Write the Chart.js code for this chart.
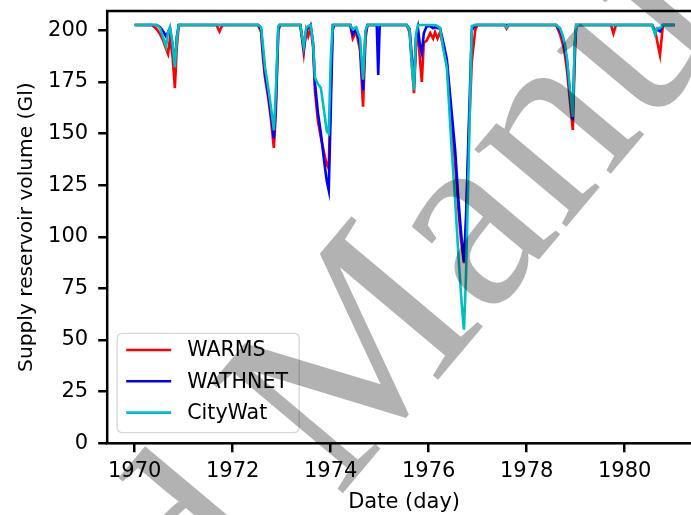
<!DOCTYPE html>
<html>
<head>
<meta charset="utf-8">
<script src="https://cdn.jsdelivr.net/npm/chart.js@4.4.0/dist/chart.umd.min.js"></script>
<style>
  html, body { margin: 0; padding: 0; background: #fff; overflow: hidden; }
  #wrap { width: 691px; height: 515px; overflow: hidden; }
  canvas { display: block; }
</style>
</head>
<body>
<div id="wrap"><canvas id="reservoirChart" width="701" height="515"></canvas></div>
<script>
// decimal years, shared by the three models
const dates = [
  1970.00, 1970.35, 1970.45, 1970.52, 1970.58, 1970.64, 1970.68, 1970.72, 1970.77, 1970.82,
  1970.86, 1970.90, 1971.67, 1971.73, 1971.79, 1972.52, 1972.58, 1972.62, 1972.66, 1972.72,
  1972.78, 1972.84, 1972.88, 1972.93, 1972.96, 1973.38, 1973.45, 1973.50, 1973.54, 1973.59,
  1973.64, 1973.68, 1973.74, 1973.80, 1973.87, 1973.92, 1973.96, 1974.00, 1974.04, 1974.07,
  1974.40, 1974.45, 1974.52, 1974.60, 1974.66, 1974.71, 1974.75, 1974.94, 1974.97, 1975.00,
  1975.55, 1975.61, 1975.66, 1975.70, 1975.74, 1975.78, 1975.82, 1975.86, 1975.90, 1975.96,
  1976.03, 1976.09, 1976.13, 1976.18, 1976.23, 1976.29, 1976.37, 1976.47, 1976.54, 1976.60,
  1976.66, 1976.71, 1976.72, 1976.76, 1976.82, 1976.88, 1976.95, 1976.99, 1977.55, 1977.59,
  1977.63, 1978.60, 1978.68, 1978.74, 1978.78, 1978.82, 1978.88, 1978.94, 1978.98, 1979.01,
  1979.72, 1979.77, 1979.82, 1980.56, 1980.62, 1980.66, 1980.72, 1980.78, 1981.02,
];
const warms = [
  202.5, 202.5, 200.5, 198, 195, 191, 188.5, 196, 188, 172,
  192, 202.5, 202.5, 199.3, 202.5, 202.5, 199, 186, 177, 168,
  157, 143, 160, 199, 202.5, 202.5, 189, 200, 197, 201.5,
  192, 170, 156, 148, 140, 135, 133, 170, 202.5, 202.5,
  202.5, 196, 199.5, 190, 163, 196, 202.5, 202.5, 202.5, 202.5,
  202.5, 199, 182, 169.5, 192, 199, 186, 175, 194, 195,
  198.6, 196, 199, 196, 199, 193, 184, 155, 135, 115,
  98, 89, 87.2, 105, 150, 185, 200, 202.5, 202.5, 200.8,
  202.5, 202.5, 198, 193, 188, 181, 166, 151.7, 185, 202.5,
  202.5, 198.5, 202.5, 202.5, 200, 195, 188, 202.5, 202.5,
];
const wathnet = [
  202.5, 202.5, 202.5, 201.5, 199.5, 197, 199, 201, 193, 183,
  197, 202.5, 202.5, 202.5, 202.5, 202.5, 200.5, 189, 179, 170,
  160, 147.5, 165, 200, 202.5, 202.5, 191, 199.5, 201.5, 202.5,
  194, 174, 160, 150, 136, 127, 122.5, 160, 200, 202.5,
  202.5, 198, 200.5, 193, 171, 198.5, 202.5, 202.5, 178.3, 202.5,
  202.5, 200.5, 186, 174, 196, 201, 193, 189, 198.5, 202,
  202, 201, 201.5, 201, 201, 195, 186, 160, 142, 120,
  102, 90, 88, 108, 155, 200, 202.5, 202.5, 202.5, 202.5,
  202.5, 202.5, 200, 196, 191, 185, 170, 156.5, 192, 202.5,
  202.5, 202.5, 202.5, 202.5, 198.5, 200.5, 199.5, 202.5, 202.5,
];
const cityWat = [
  202.5, 202.5, 202.5, 201, 196.5, 192, 199, 201.5, 194, 182,
  196, 202.5, 202.5, 202.5, 202.5, 202.5, 201.5, 192, 182, 173,
  163, 151.5, 170, 202, 202.5, 202.5, 192, 201, 202, 202.5,
  194, 177, 174, 172, 160, 151, 150, 185, 202.5, 202.5,
  202.5, 200.5, 201.5, 196, 176, 200, 202.5, 202.5, 202.5, 202.5,
  202.5, 200, 182, 171, 198, 202.5, 202.5, 202.5, 202.5, 202.5,
  202.5, 202.5, 202.5, 202, 201, 192, 182, 142, 118, 93.6,
  72, 57, 55, 80, 140, 202, 202.5, 202.5, 202.5, 201.3,
  202.5, 202.5, 201, 197, 193, 187, 172, 158, 194, 202.5,
  202.5, 202.5, 202.5, 202.5, 198, 201, 201, 202.5, 202.5,
];
const seriesNames = ["WARMS", "WATHNET", "CityWat"];
const yearTicks = [1970, 1972, 1974, 1976, 1978, 1980];
const volumeTicks = [0, 25, 50, 75, 100, 125, 150, 175, 200];

const tickFont = { family: "DejaVu Sans", size: 21 };

function toPoints(values) {
  return dates.map((d, i) => ({ x: d, y: values[i] }));
}

// matplotlib-like box round the axes
const frame = {
  id: "frame",
  afterDraw(chart) {
    const { ctx, chartArea: a } = chart;
    ctx.save();
    ctx.strokeStyle = "#000";
    ctx.lineWidth = 2.5;
    ctx.strokeRect(a.left, a.top, a.right - a.left, a.bottom - a.top);
    ctx.restore();
  },
};

// legend in the lower left corner of the axes
const cornerLegend = {
  id: "cornerLegend",
  afterDraw(chart) {
    const { ctx, chartArea: a } = chart;
    const w = 182, h = 99.4;
    const x = a.left + 10, y = a.bottom - 10.6 - h;
    ctx.save();
    ctx.beginPath();
    ctx.roundRect(x, y, w, h, 5);
    ctx.fillStyle = "rgba(255,255,255,0.8)";
    ctx.fill();
    ctx.strokeStyle = "rgba(204,204,204,0.8)";
    ctx.lineWidth = 1.3;
    ctx.stroke();
    ctx.font = "20.6px 'DejaVu Sans'";
    ctx.textBaseline = "middle";
    ctx.fillStyle = "#000";
    chart.data.datasets.forEach((ds, i) => {
      const ly = y + 16.7 + i * 31.3;
      ctx.beginPath();
      ctx.moveTo(x + 9, ly);
      ctx.lineTo(x + 54, ly);
      ctx.strokeStyle = ds.borderColor;
      ctx.lineWidth = 2.6;
      ctx.stroke();
      ctx.fillText(ds.label, x + 70, ly + 1);
    });
    ctx.restore();
  },
};

// grey "Accepted Manuscript" stamp on top of everything
const stamp = {
  id: "stamp",
  afterDraw(chart) {
    const ctx = chart.ctx;
    ctx.save();
    ctx.translate(338, 499);
    ctx.rotate((-50 * Math.PI) / 180);
    ctx.font = "262px 'Liberation Serif'";
    ctx.fillStyle = "rgba(0,0,0,0.3)";
    ctx.textAlign = "left";
    ctx.fillText("Manuscript", 0, 0);
    ctx.textAlign = "right";
    ctx.fillText("Accepted ", 0, 0);
    ctx.restore();
  },
};

new Chart(document.getElementById("reservoirChart"), {
  type: "line",
  data: {
    datasets: [
      { label: seriesNames[0], data: toPoints(warms), borderColor: "#ff0000", order: 3 },
      { label: seriesNames[1], data: toPoints(wathnet), borderColor: "#0000ff", order: 2 },
      { label: seriesNames[2], data: toPoints(cityWat), borderColor: "#00bfbf", order: 1 },
    ],
  },
  options: {
    responsive: false,
    animation: false,
    parsing: false,
    layout: { padding: { top: 11, left: 0, right: 0, bottom: 0 } },
    elements: {
      line: { borderWidth: 2.6, tension: 0, fill: false },
      point: { radius: 0 },
    },
    plugins: { legend: { display: false }, tooltip: { enabled: false } },
    scales: {
      x: {
        type: "linear",
        min: 1969.439,
        max: 1981.557,
        afterBuildTicks: (s) => { s.ticks = yearTicks.map((v) => ({ value: v })); },
        afterFit: (s) => { s.height = 71.7; s.paddingLeft = 0; s.paddingRight = 0; },
        ticks: { callback: (v) => String(v), font: tickFont, color: "#000", padding: 7, maxRotation: 0, autoSkip: false },
        grid: { display: true, drawOnChartArea: false, drawTicks: true, tickLength: 9, color: "#000", lineWidth: 2.5 },
        border: { display: false },
        title: { display: true, text: "Date (day)", font: tickFont, color: "#000", padding: { top: 0, bottom: 0 } },
      },
      y: {
        min: 0,
        max: 209.3,
        afterBuildTicks: (s) => { s.ticks = volumeTicks.map((v) => ({ value: v })); },
        afterFit: (s) => { s.width = 107.2; s.paddingTop = 0; s.paddingBottom = 0; },
        ticks: { font: tickFont, color: "#000", padding: 10 },
        grid: { display: true, drawOnChartArea: false, drawTicks: true, tickLength: 9, color: "#000", lineWidth: 2.5 },
        border: { display: false },
        title: { display: true, text: "Supply reservoir volume (Gl)", font: { family: "DejaVu Sans", size: 20.2 }, color: "#000", padding: { top: 15, bottom: 0 } },
      },
    },
  },
  plugins: [frame, cornerLegend, stamp],
});
</script>
</body>
</html>
